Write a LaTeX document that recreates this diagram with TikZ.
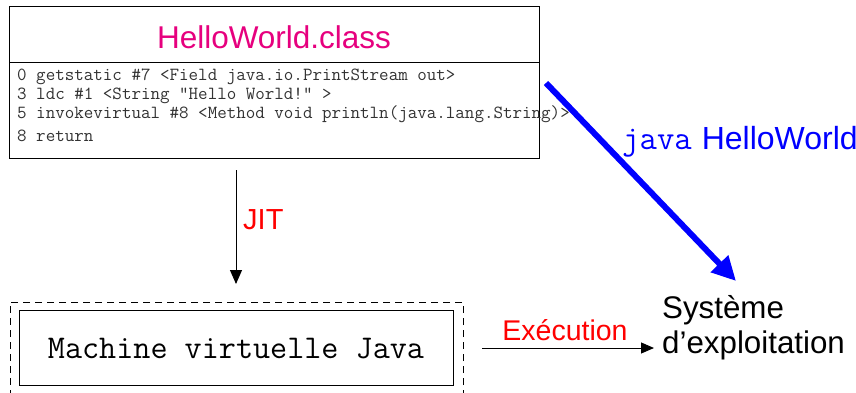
\documentclass[tikz,border=0pt]{standalone}
\usepackage{fontspec}
\setmainfont{Liberation Sans}
\usetikzlibrary{arrows.meta}
\definecolor{titlemag}{RGB}{230,0,126}
\definecolor{codegray}{RGB}{50,50,50}
\tikzset{
  box/.style={draw, line width=1pt, inner sep=0pt},
  codeline/.style={anchor=west, inner sep=0pt, text=codegray, font=\fontsize{18.5}{20}\selectfont\ttfamily},
  bigsans/.style={font=\fontsize{31}{35}\selectfont},
  thinarrow/.style={draw, line width=1pt, -{Triangle[length=14pt,width=12pt]}},
}
\begin{document}
\begin{tikzpicture}[x=1pt,y=-1pt]
\useasboundingbox (0,0) rectangle (856,393);
\clip (0,0) rectangle (856,393);
% class box
\node[box, minimum width=530pt, minimum height=151pt] (cls) at (274,82.5) {};
\coordinate (divl) at (9,63);
\coordinate (divr) at (539,63);
\draw[line width=1pt] (divl) -- (divr);
\node[inner sep=0pt, text=titlemag, font=\fontsize{31.5}{35}\selectfont] (title) at (274,37) {HelloWorld.class};
\node[codeline] (c1) at (17,77) {0 getstatic \#7 <Field java.io.PrintStream out>};
\node[codeline] (c2) at (17,96) {3 ldc \#1 <String "Hello World!" >};
\node[codeline] (c3) at (17,114) {5 invokevirtual \#8 <Method void println(java.lang.String)>};
\node[codeline] (c4) at (17,136) {8 return};
% JVM
\node[draw, line width=1pt, dash pattern=on 7pt off 5pt, minimum width=453pt, minimum height=110pt, inner sep=0pt] (outer) at (236.5,357) {};
\node[box, minimum width=434pt, minimum height=75pt] (jvm) at (236,347.5) {};
\node[inner sep=0pt, font=\fontsize{33.2}{36}\selectfont\ttfamily] (jvmtext) at (236,349) {Machine virtuelle Java};
% JIT arrow
\coordinate (jitA) at (236,170);
\coordinate (jitB) at (236,284);
\draw[thinarrow] (jitA) -- (jitB);
\node[anchor=west, inner sep=0pt, text=red, font=\fontsize{29}{32}\selectfont] (jit) at (243,220) {JIT};
% OS
\node[anchor=west, align=left, inner sep=0pt, font=\fontsize{31.3}{35}\selectfont] (os) at (662,328) {Système\\d’exploitation};
% Execution arrow
\coordinate (exA) at (482,348);
\coordinate (exB) at (654,348);
\draw[thinarrow, -{Triangle[length=13pt,width=11pt]}] (exA) -- (exB);
\node[inner sep=0pt, text=red, font=\fontsize{28.5}{32}\selectfont] (exec) at (565,330) {Exécution};
% blue arrow
\coordinate (bA) at (546,83);
\coordinate (bB) at (736,281);
\draw[blue, line width=6pt, -{Triangle[length=24pt,width=23pt]}] (bA) -- (bB);
\node[anchor=base west, inner sep=0pt, text=blue, font=\fontsize{32}{35}\selectfont] (cmd) at (622,149) {{\fontsize{33.8}{36}\selectfont\ttfamily java}\hspace{10pt}HelloWorld};
\end{tikzpicture}
\end{document}
